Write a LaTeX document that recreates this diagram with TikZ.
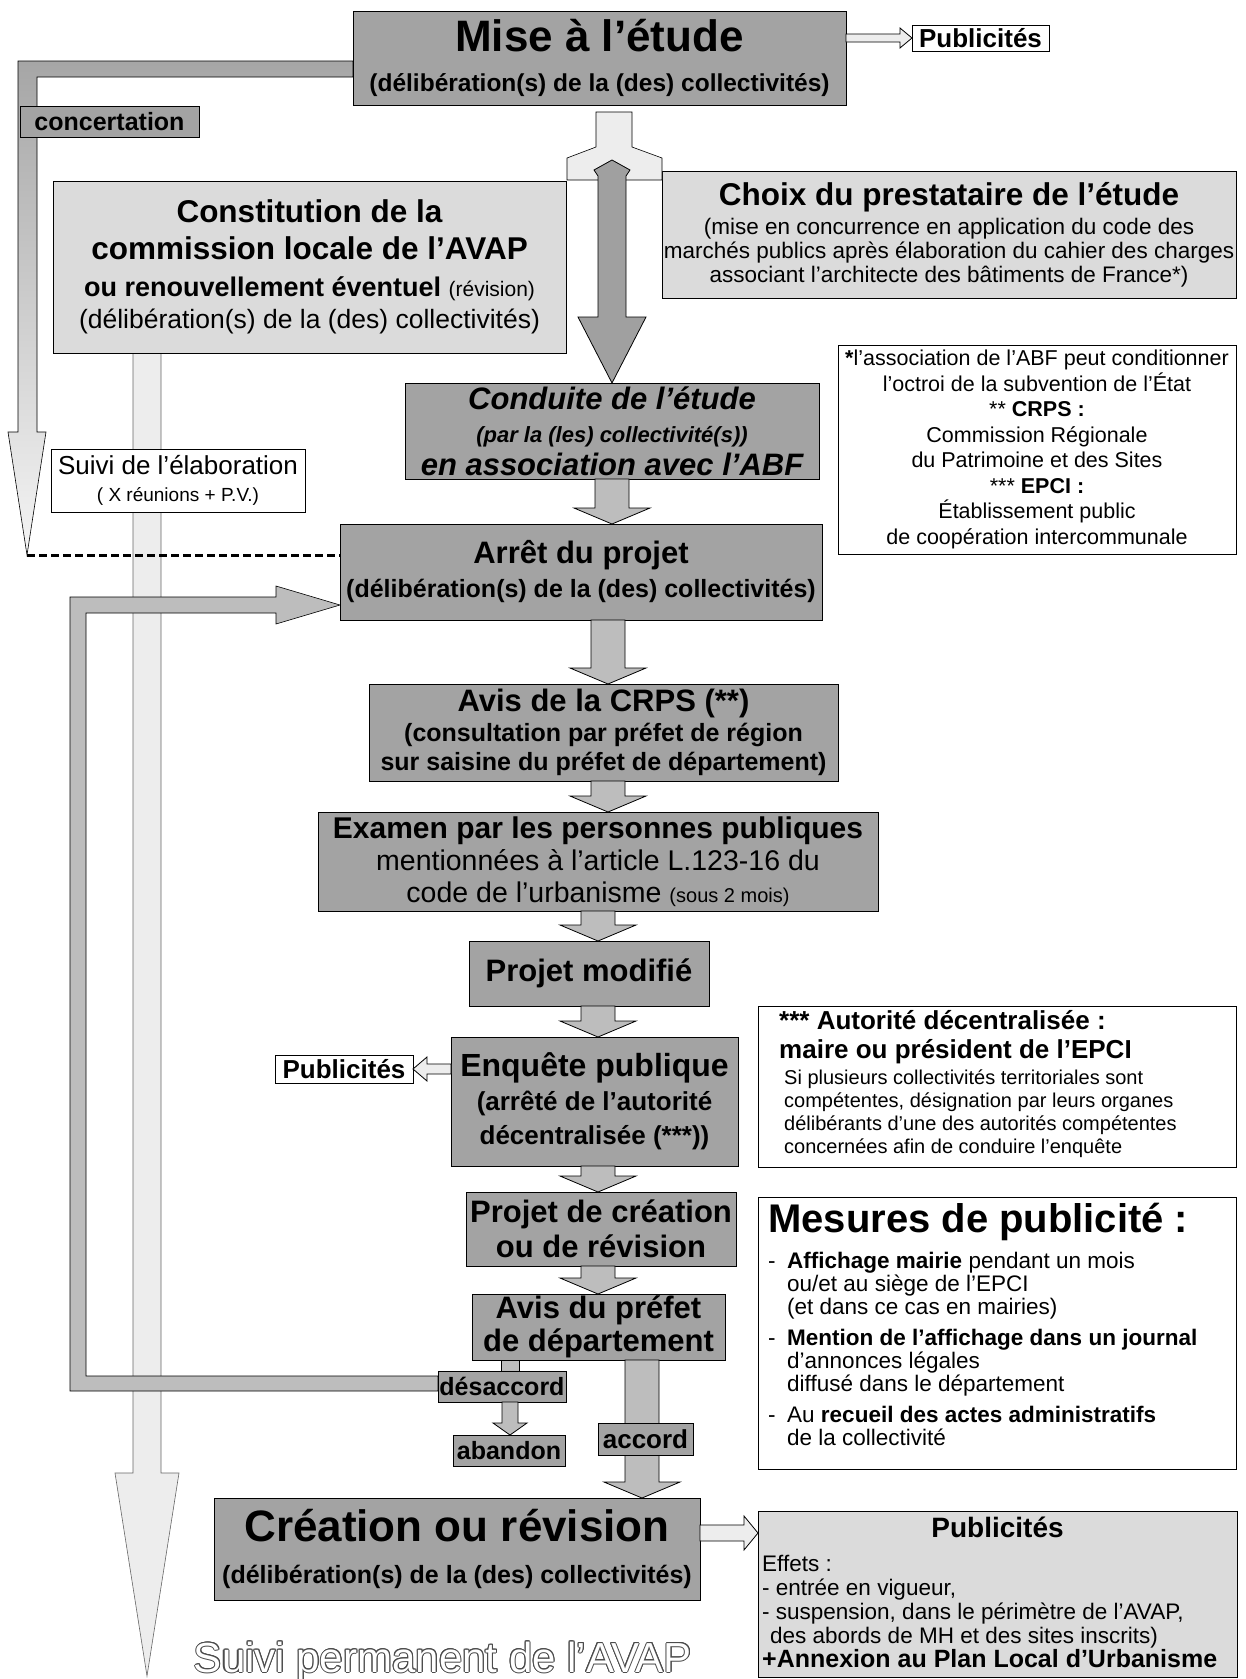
\documentclass[tikz,border=0pt]{standalone}
\usepackage{fontspec}
\setmainfont{Liberation Sans}
\usetikzlibrary{calc,backgrounds}

\definecolor{stagegray}{gray}{0.64}
\definecolor{palegray}{gray}{0.86}
\definecolor{flowgray}{gray}{0.74}
\definecolor{hollowgray}{gray}{0.93}

\newcommand{\fsz}[2]{\fontsize{#1}{#2}\selectfont}

% block arrow: [fill]{from}{to}{shaft half width}{head half width}{head length}
\newcommand{\blockarrow}[6][flowgray]{%
  \coordinate (ba-h) at ($(#3)!#6!(#2)$);
  \filldraw[fill=#1, draw=black, line width=0.8pt]
    ($(#2)!#4!90:(#3)$) -- ($(ba-h)!#4!90:(#3)$) -- ($(ba-h)!#5!90:(#3)$)
    -- (#3) -- ($(ba-h)!#5!-90:(#3)$) -- ($(ba-h)!#4!-90:(#3)$)
    -- ($(#2)!#4!-90:(#3)$) -- cycle;}
\newcommand{\flowarrow}[2]{\blockarrow{#1}{#2}{17pt}{38pt}{16pt}}

\begin{document}
\begin{tikzpicture}[x=1pt, y=-1pt,
  stagebox/.style={draw=black, line width=0.9pt, fill=stagegray, inner sep=0pt,
                   outer sep=0pt, align=center},
  studybox/.style={stagebox, fill=palegray, line width=0.7pt},
  notebox/.style={draw=black, line width=0.6pt, fill=white, inner sep=0pt,
                  outer sep=0pt, align=center},
  tagbox/.style={stagebox, font=\fsz{25}{28}\bfseries},
  pubbox/.style={notebox, font=\fsz{26}{28}\bfseries},
  boxsize/.style 2 args={minimum width=#1, minimum height=#2},
  textblock/.style={anchor=north west, align=left, inner sep=0pt}
]
  \useasboundingbox (0,0) rectangle (1246,1679);

  % main chain
  \node[stagebox, boxsize={493}{94}, font=\fsz{24.5}{40}\bfseries] (mise) at (599.5,58)
    {{\fsz{44}{46}Mise à l'étude}\\(délibération(s) de la (des) collectivités)};
  \node[pubbox, boxsize={137}{26}] (pubtop) at (980.5,38) {Publicités};
  \node[tagbox, boxsize={179}{31}] (concert) at (109.5,121.5) {concertation};

  \node[studybox, boxsize={513}{172}, font=\fsz{31.5}{37}\bfseries] (constit) at (309.5,267)
    {Constitution de la\\commission locale de l'AVAP\\
     {\fsz{27}{30}ou renouvellement éventuel \mdseries\fsz{21}{24}(révision)}\\[-5pt]
     {\mdseries\fsz{26.5}{30}(délibération(s) de la (des) collectivités)}};
  \node[studybox, boxsize={574}{127}, font=\fsz{22.5}{24}] (choix) at (949,234.5)
    {{\fsz{31.5}{34}\bfseries Choix du prestataire de l'étude}\\[5pt]
     (mise en concurrence en application du code des\\
     marchés publics après élaboration du cahier des charges\\
     associant l'architecte des bâtiments de France*)};
  \node[notebox, boxsize={398}{209}, font=\fsz{21.5}{25.5}] (notes) at (1037,449.5)
    {\textbf{*}l'association de l'ABF peut conditionner\\
     l'octroi de la subvention de l'État\\
     ** \textbf{CRPS :}\\
     Commission Régionale\\
     du Patrimoine et des Sites\\
     *** \textbf{EPCI :}\\
     Établissement public\\
     de coopération intercommunale};

  \node[stagebox, boxsize={414}{96}, font=\fsz{31}{33}\bfseries\itshape] (conduite) at (612,431)
    {Conduite de l'étude\\{\fsz{22}{24}(par la (les) collectivité(s))}\\en association avec l'ABF};
  \node[notebox, boxsize={254}{63}, font=\fsz{26}{27}] (suivi) at (178,480.5)
    {Suivi de l'élaboration\\{\fsz{19}{22}( X réunions + P.V.)}};
  \node[stagebox, boxsize={482}{96}, font=\fsz{25}{34}\bfseries] (arret) at (581,572)
    {{\fsz{31}{34}Arrêt du projet}\\(délibération(s) de la (des) collectivités)};
  \node[stagebox, boxsize={469}{97}, font=\fsz{25}{29.5}\bfseries] (avis) at (603.5,732.5)
    {{\fsz{31}{34}Avis de la CRPS (**)}\\(consultation par préfet de région\\
     sur saisine du préfet de département)};
  \node[stagebox, boxsize={560}{99}, font=\fsz{28.5}{32}] (examen) at (598,861.5)
    {{\fsz{30}{33}\bfseries Examen par les personnes publiques}\\
     mentionnées à l'article L.123-16 du\\
     code de l'urbanisme {\fsz{20}{22}(sous 2 mois)}};
  \node[stagebox, boxsize={240}{65}, font=\fsz{31}{34}\bfseries] (projmod) at (589,973.5)
    {Projet modifié};
  \node[stagebox, boxsize={287}{129}, font=\fsz{26}{34}\bfseries] (enquete) at (594.5,1101.5)
    {{\fsz{32}{34}Enquête publique}\\(arrêté de l'autorité\\décentralisée (***))};
  \node[pubbox, boxsize={138}{28}] (publeft) at (344,1069) {Publicités};

  \node[notebox, boxsize={478}{161}] (autorite) at (997,1086.5) {};
  \node[textblock, font=\fsz{20}{23}] (autorite-txt) at ($(autorite.north west)+(21,4)$)
    {{\fsz{26}{30}\bfseries *** Autorité décentralisée :}\\[6pt]
     {\fsz{26}{30}\bfseries maire ou président de l'EPCI}\\[3pt]
     \hspace*{5pt}Si plusieurs collectivités territoriales sont\\
     \hspace*{5pt}compétentes, désignation par leurs organes\\
     \hspace*{5pt}délibérants d'une des autorités compétentes\\
     \hspace*{5pt}concernées afin de conduire l'enquête};

  \node[stagebox, boxsize={270}{74}, font=\fsz{31}{35}\bfseries] (projcrea) at (601,1229)
    {Projet de création\\ou de révision};
  \node[stagebox, boxsize={253}{66}, font=\fsz{31}{33}\bfseries] (avispref) at (598.5,1327)
    {Avis du préfet\\de département};

  \node[notebox, boxsize={478}{272}] (mesures) at (997,1333) {};
  \node[textblock, font=\fsz{22.5}{23}] (mesures-txt) at ($(mesures.north west)+(10,6)$)
    {{\fsz{40}{44}\bfseries Mesures de publicité :}\\[10pt]
     \makebox[19pt][l]{-}\textbf{Affichage mairie} pendant un mois\\
     \hspace*{19pt}ou/et au siège de l'EPCI\\
     \hspace*{19pt}(et dans ce cas en mairies)\\[8pt]
     \makebox[19pt][l]{-}\textbf{Mention de l'affichage dans un journal}\\
     \hspace*{19pt}d'annonces légales\\
     \hspace*{19pt}diffusé dans le département\\[8pt]
     \makebox[19pt][l]{-}Au \textbf{recueil des actes administratifs}\\
     \hspace*{19pt}de la collectivité};

  \node[stagebox, boxsize={486}{102}, font=\fsz{25}{42}\bfseries] (creation) at (457,1549)
    {{\fsz{44}{46}Création ou révision}\\(délibération(s) de la (des) collectivités)};

  \node[studybox, boxsize={479}{166}] (pubbot) at (997.5,1594) {};
  \node[font=\fsz{28}{30}\bfseries, inner sep=0pt] (pubbot-title) at ($(pubbot.north)+(0,16)$)
    {Publicités};
  \node[textblock, font=\fsz{22.5}{24}] (pubbot-txt) at ($(pubbot.north west)+(4,44)$)
    {Effets :\\
     - entrée en vigueur,\\
     - suspension, dans le périmètre de l'AVAP,\\
     \hspace*{8pt}des abords de MH et des sites inscrits)\\
     {\fsz{25}{26}\bfseries +Annexion au Plan Local d'Urbanisme}};

  % study arrow out of the first box, split towards both boxes
  \filldraw[fill=hollowgray, line width=0.6pt]
    (596,112) -- (632,112) -- (632,147) -- (662,158) -- (662,180)
    -- (567,180) -- (567,158) -- (596,147) -- cycle;
  \filldraw[fill=flowgray!85!black, line width=0.8pt]
    (612,160) -- (630,170) -- (626,176) -- (626,317) -- (646,317) -- (conduite.north)
    -- (578,317) -- (598,317) -- (598,176) -- (594,170) -- cycle;

  % flow arrows
  \coordinate (colA) at (612,0);
  \coordinate (colB) at (608,0);
  \coordinate (colC) at (598,0);
  \coordinate (colD) at (642,0);
  \coordinate (colE) at (510,0);
  \coordinate (pubrow) at (0,1533);
  \flowarrow{conduite.south -| colA}{arret.north -| colA}
  \flowarrow{arret.south -| colB}{avis.north -| colB}
  \flowarrow{avis.south -| colB}{examen.north -| colB}
  \flowarrow{examen.south -| colC}{projmod.north -| colC}
  \flowarrow{projmod.south -| colC}{enquete.north -| colC}
  \flowarrow{enquete.south -| colC}{projcrea.north -| colC}
  \flowarrow{projcrea.south -| colC}{avispref.north -| colC}
  \flowarrow{avispref.south -| colD}{creation.north -| colD}

  \blockarrow[hollowgray]{mise.east |- pubtop.west}{pubtop.west}{4pt}{10pt}{12pt}
  \blockarrow[hollowgray]{enquete.west |- publeft.east}{publeft.east}{5pt}{12pt}{14pt}
  \blockarrow[hollowgray]{creation.east |- pubrow}{pubbot.west |- pubrow}{8pt}{17pt}{14pt}

  % outcome tags
  \node[tagbox, boxsize={128}{31}] (desaccord) at (502,1386.5) {désaccord};
  \node[tagbox, boxsize={112}{31}] (abandon) at (509,1450.5) {abandon};
  \node[tagbox, boxsize={95}{32}, font=\fsz{26}{28}\bfseries] (accord) at (645.5,1439) {accord};
  \filldraw[fill=flowgray, line width=0.8pt]
    ($(avispref.south -| colE)+(-9,0)$) rectangle ($(desaccord.north -| colE)+(9,0)$);
  \blockarrow{desaccord.south -| colE}{abandon.north -| colE}{8pt}{17pt}{12pt}

  % concertation and follow-up lines
  \coordinate (concTip) at (27,555);
  \draw[line width=3pt, dash pattern=on 8pt off 4pt] (concTip) -- (concTip -| arret.west);

  \begin{scope}[on background layer]
    \fill[white] (0,0) rectangle (1246,1679);
    \filldraw[fill=hollowgray, draw=black!60, line width=0.6pt]
      ($(constit.south west)+(80,0)$) -- (133,1473) -- (115,1473) -- (147,1676)
      -- (179,1473) -- (161,1473) -- ($(constit.south west)+(108,0)$) -- cycle;
    \shadedraw[top color=black!35, bottom color=black!4, line width=0.6pt]
      ($(mise.north west)+(0,50)$) -- (18,61) -- (18,432) -- (8,432) -- (concTip)
      -- (46,432) -- (37,432) -- (37,77) -- ($(mise.north west)+(0,66)$) -- cycle;
    \filldraw[fill=flowgray, line width=0.6pt]
      ($(desaccord.north west)+(0,5)$) -- (86,1376) -- (86,613) -- (276,613)
      -- (276,624) -- ($(arret.south west)+(0,-15)$) -- (276,586) -- (276,597)
      -- (70,597) -- (70,1391) -- ($(desaccord.north west)+(0,20)$) -- cycle;
  \end{scope}

  % outlined caption
  \coordinate (permPos) at (443,1672);
  \foreach \a in {0,30,...,330}
    \node[anchor=base, font=\fsz{42}{46}, text=black!70] at ($(permPos)+(\a:1)$)
      {Suivi permanent de l'AVAP};
  \node[anchor=base, font=\fsz{42}{46}, text=white] (suiviperm) at (permPos)
    {Suivi permanent de l'AVAP};
\end{tikzpicture}
\end{document}
